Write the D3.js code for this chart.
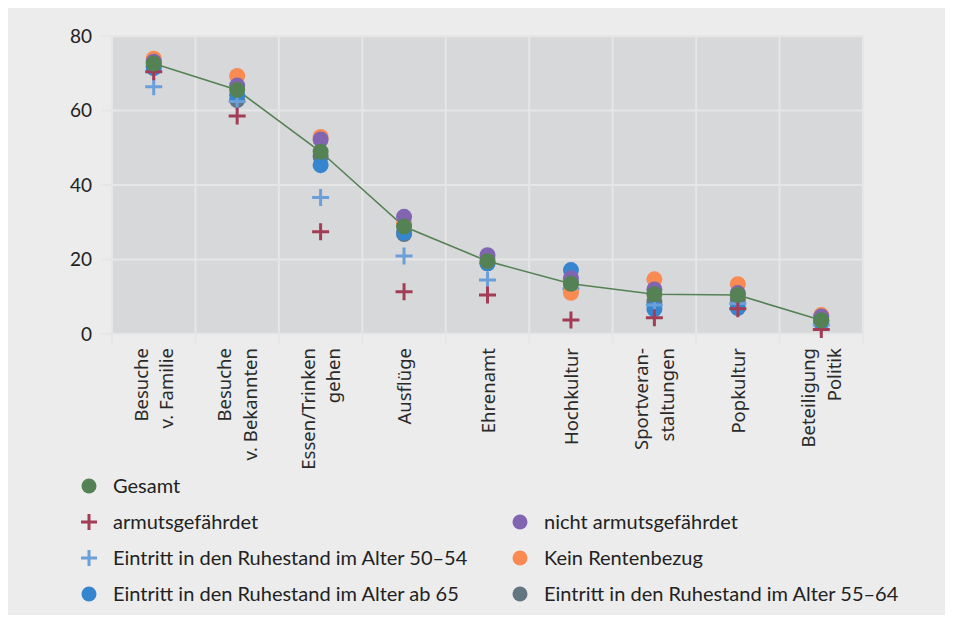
<!DOCTYPE html>
<html><head><meta charset="utf-8">
<script src="https://cdn.jsdelivr.net/npm/d3@7"></script>
<style>body{margin:0;background:#fff}</style>
</head><body><svg id="c" width="953" height="622"></svg>
<script>
// ---- data ----
const categories = [
  ["Besuche", "v. Familie"],
  ["Besuche", "v. Bekannten"],
  ["Essen/Trinken", "gehen"],
  ["Ausflüge"],
  ["Ehrenamt"],
  ["Hochkultur"],
  ["Sportveran-", "staltungen"],
  ["Popkultur"],
  ["Beteiligung", "Politik"]
];
const yTicks = [0, 20, 40, 60, 80];

const gesamt        = [72.5, 65.4, 48.8, 28.7, 19.4, 13.3, 10.5, 10.3, 3.5];
const armutsgef     = [70.3, 58.4, 27.3, 11.2, 10.3, 3.6, 4.2, 6.6, 1.0];
const nichtArmuts   = [73.0, 66.6, 52.1, 31.3, 21.0, 14.8, 11.8, 10.8, 4.5];
const alter5054     = [66.3, 62.3, 36.5, 20.8, 14.3, 12.0, 7.6, 8.0, 2.2];
const keinRente     = [73.8, 69.2, 52.8, 29.6, 20.0, 10.9, 14.5, 13.2, 4.9];
const alterAb65     = [71.3, 64.0, 45.2, 27.0, 18.8, 17.0, 6.5, 6.8, 2.8];
const alter5564     = [71.8, 62.7, 47.5, 26.7, 18.8, 13.5, 8.5, 9.0, 3.4];

const seriesNames = ["Gesamt", "armutsgefährdet", "nicht armutsgefährdet",
  "Eintritt in den Ruhestand im Alter 50–54", "Kein Rentenbezug",
  "Eintritt in den Ruhestand im Alter ab 65", "Eintritt in den Ruhestand im Alter 55–64"];

// ---- styles / layout ----
const series = [
  {name: seriesNames[0], values: gesamt,      color: "#558254", shape: "circle", col: 0, row: 0},
  {name: seriesNames[1], values: armutsgef,   color: "#a13d55", shape: "plus",   col: 0, row: 1},
  {name: seriesNames[2], values: nichtArmuts, color: "#8165b1", shape: "circle", col: 1, row: 1},
  {name: seriesNames[3], values: alter5054,   color: "#6b9fda", shape: "plus",   col: 0, row: 2},
  {name: seriesNames[4], values: keinRente,   color: "#f88a52", shape: "circle", col: 1, row: 2},
  {name: seriesNames[5], values: alterAb65,   color: "#3685cf", shape: "circle", col: 0, row: 3},
  {name: seriesNames[6], values: alter5564,   color: "#627580", shape: "circle", col: 1, row: 3}
];
// drawing order (back to front)
const drawOrder = [6, 5, 3, 4, 2, 1, 0];

const svg = d3.select("#c");
const plot = {left: 112, right: 863, top: 35.7, bottom: 333.3};

svg.append("rect").attr("x", 8).attr("y", 8).attr("width", 937).attr("height", 607).attr("fill", "#ececec");

const x = d3.scaleBand().domain(d3.range(categories.length)).range([plot.left, plot.right]);
const y = d3.scaleLinear().domain([0, 80]).range([plot.bottom, plot.top]);

svg.append("rect").attr("x", plot.left).attr("y", plot.top)
  .attr("width", plot.right - plot.left).attr("height", plot.bottom - plot.top).attr("fill", "#d7d8da");

const gridColor = "#e6e6e6";
// horizontal grid + y ticks
const yAxis = svg.append("g").attr("transform", `translate(${plot.left},0)`)
  .call(d3.axisLeft(y).tickValues(yTicks).tickSizeInner(-(plot.right - plot.left)).tickSizeOuter(0).tickPadding(0));
yAxis.select(".domain").remove();
yAxis.selectAll(".tick line").attr("x1", -11).attr("stroke", gridColor).attr("stroke-width", 2);
yAxis.selectAll(".tick text").attr("x", -20).attr("fill", "#222")
  .style("font-family", "Lato, sans-serif").style("font-size", "19px").attr("dy", "0.36em");

// vertical grid at band edges
const edges = d3.range(categories.length + 1).map(i => i < categories.length ? x(i) : x(i - 1) + x.bandwidth());
svg.append("g").selectAll("line").data(edges).join("line")
  .attr("x1", d => d).attr("x2", d => d).attr("y1", plot.top).attr("y2", plot.bottom + 10)
  .attr("stroke", gridColor).attr("stroke-width", 2);

// category labels
const lab = svg.append("g").selectAll("text").data(categories).join("text")
  .attr("transform", (d, i) => `translate(${x(i) + x.bandwidth() / 2},348) rotate(-90)`)
  .attr("text-anchor", "end").attr("fill", "#2a2a2a")
  .style("font-family", "'Noto Sans', sans-serif").style("font-size", "18.5px");
lab.each(function(d) {
  const t = d3.select(this);
  if (d.length === 1) {
    t.append("tspan").attr("x", 0).attr("y", 7).text(d[0]);
  } else {
    t.append("tspan").attr("x", 0).attr("y", -6).text(d[0]);
    t.append("tspan").attr("x", 0).attr("y", 19.5).text(d[1]);
  }
});

// Gesamt line
const line = d3.line().x((d, i) => x(i) + x.bandwidth() / 2).y(d => y(d));
svg.append("path").datum(gesamt).attr("d", line).attr("fill", "none")
  .attr("stroke", "#558254").attr("stroke-width", 1.6);

function drawMark(g, shape, color, cx, cy) {
  if (shape === "circle") {
    g.append("circle").attr("cx", cx).attr("cy", cy).attr("r", 8).attr("fill", color);
  } else {
    g.append("path").attr("d", `M${cx - 8.5},${cy}H${cx + 8.5}M${cx},${cy - 8.5}V${cy + 8.5}`)
      .attr("stroke", color).attr("stroke-width", 3).attr("fill", "none");
  }
}

const marks = svg.append("g");
drawOrder.forEach(si => {
  const s = series[si];
  const g = marks.append("g");
  s.values.forEach((v, i) => drawMark(g, s.shape, s.color, x(i) + x.bandwidth() / 2, y(v)));
});

// legend
const legend = svg.append("g");
const colX = [89, 520], rowY = [486, 522, 558, 594];
series.forEach(s => {
  const lx = colX[s.col], ly = rowY[s.row];
  const g = legend.append("g");
  if (s.shape === "circle") {
    g.append("circle").attr("cx", lx).attr("cy", ly).attr("r", 7.5).attr("fill", s.color);
  } else {
    g.append("path").attr("d", `M${lx - 8},${ly}H${lx + 8}M${lx},${ly - 8}V${ly + 8}`)
      .attr("stroke", s.color).attr("stroke-width", 3);
  }
  g.append("text").attr("x", lx + 24).attr("y", ly).attr("dy", "0.35em").attr("fill", "#222")
    .style("font-family", "Lato, sans-serif").style("font-size", "20px").text(s.name);
});
</script>
</body></html>
